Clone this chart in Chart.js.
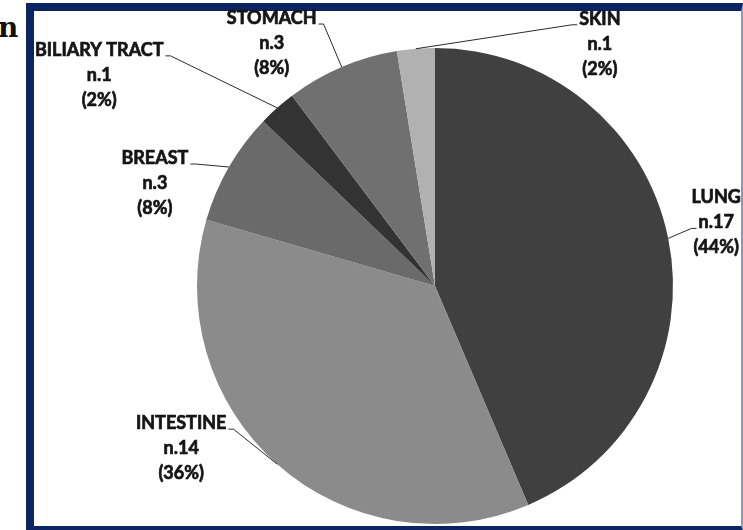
<!DOCTYPE html>
<html>
<head>
<meta charset="utf-8">
<script src="https://cdn.jsdelivr.net/npm/chart.js@4"></script>
<style>
  body { margin: 0; background: #fff; width: 743px; height: 530px; overflow: hidden; position: relative; }
  #frame {
    position: absolute; left: 26px; top: 3px; width: 717px; height: 528px;
    box-sizing: border-box; background: #fff;
    border-top: 8px solid #0c2461; border-left: 8px solid #0c2461;
    border-bottom: 5px solid #0c2461; border-right: 2px solid #8b98b8;
  }
  #title-tail {
    position: absolute; left: -2px; top: 11px;
    font: 900 28px "DejaVu Serif", serif; color: #111;
  }
  #chart-canvas { position: absolute; left: 0; top: 0; }
</style>
</head>
<body>
<div id="title-tail">n</div>
<div id="frame"></div>
<canvas id="chart-canvas" width="743" height="530"></canvas>
<script>
const categories = ['LUNG', 'INTESTINE', 'BREAST', 'BILIARY TRACT', 'STOMACH', 'SKIN'];
const counts = [17, 14, 3, 1, 3, 1];
const percents = [44, 36, 8, 2, 8, 2];

const sliceColors = ['#404040', '#8b8b8b', '#6a6a6a', '#333333', '#707070', '#b1b1b1'];

// label centre offset from the slice's outer mid point, which line the leader joins, and on which side
const labelLayout = [
    { dx: 48, dy: -41, line: 1, side: -1 },
    { dx: -96, dy: -41, line: 0, side: 1 },
    { dx: -74, dy: -9, line: 0, side: 1 },
    { dx: -178, dy: -58, line: 0, side: 1 },
    { dx: -70, dy: -49, line: 0, side: 1 },
    { dx: 184, dy: -30, line: 0, side: -1 }
];
const lineH = 25;

const leaderLabels = {
    id: 'leaderLabels',
    afterDatasetsDraw(chart) {
        const ctx = chart.ctx;
        const meta = chart.getDatasetMeta(0);
        ctx.save();
        ctx.font = 'bold 18px Lato';
        ctx.fillStyle = '#151515';
        ctx.textAlign = 'center';
        ctx.textBaseline = 'middle';
        meta.data.forEach((arc, i) => {
            const p = arc.getProps(['x', 'y', 'startAngle', 'endAngle', 'outerRadius'], true);
            const mid = (p.startAngle + p.endAngle) / 2;
            const ax = p.x + Math.cos(mid) * p.outerRadius;
            const ay = p.y + Math.sin(mid) * p.outerRadius;
            const o = labelLayout[i];
            const cx = ax + o.dx;
            const cy = ay + o.dy;
            const lines = [categories[i], 'n.' + counts[i], '(' + percents[i] + '%)'];
            // a thin stroke makes Lato look closer to the heavier original face
            ctx.strokeStyle = '#151515';
            ctx.lineWidth = 0.7;
            lines.forEach((t, k) => {
                ctx.fillText(t, cx, cy + k * lineH);
                ctx.strokeText(t, cx, cy + k * lineH);
            });

            const w = ctx.measureText(lines[o.line]).width;
            const ex = cx + o.side * (w / 2 + 2);
            const ey = cy + o.line * lineH + 6;
            ctx.strokeStyle = '#2a2a2a';
            ctx.lineWidth = 1;
            ctx.beginPath();
            ctx.moveTo(ax, ay);
            ctx.lineTo(ex + o.side * 5, ey);
            ctx.lineTo(ex, ey);
            ctx.stroke();
        });
        ctx.restore();
    }
};

function drawChart() {
    const ctx = document.getElementById('chart-canvas').getContext('2d');
    new Chart(ctx, {
        type: 'pie',
        data: {
            labels: categories,
            datasets: [{
                data: counts,
                backgroundColor: sliceColors,
                borderWidth: 0
            }]
        },
        options: {
            responsive: false,
            animation: false,
            layout: {
                padding: { left: 197, right: 70, top: 48, bottom: 6 }
            },
            plugins: {
                legend: { display: false },
                tooltip: { enabled: false }
            }
        },
        plugins: [leaderLabels]
    });
}

document.fonts.load('bold 18px Lato').then(drawChart, drawChart);
</script>
</body>
</html>
